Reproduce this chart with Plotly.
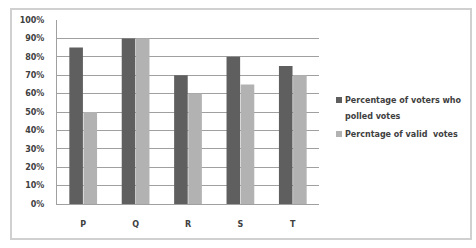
import plotly.graph_objects as go

categories = ["P", "Q", "R", "S", "T"]
voters_polled = [85, 90, 70, 80, 75]
valid_votes = [50, 90, 60, 65, 70]
series_names = ["Percentage of voters who<br>polled votes", "Percntage of valid  votes"]
series_colors = ["#5f5f5f", "#b2b2b2"]
tick_vals = list(range(0, 101, 10))
tick_text = [f"{v}%" for v in tick_vals]

W, H = 476, 248
L, R, T, B = 57, 157, 20, 44
pw, ph = W - L - R, H - T - B

def px_to_paper_x(px):
    return (px - L) / pw

def px_to_paper_y(py):
    return (H - B - py) / ph

fnt = dict(family="DejaVu Sans", size=8, color="#404040", weight="bold")

fig = go.Figure()
for name, vals, col in zip(series_names, [voters_polled, valid_votes], series_colors):
    fig.add_trace(go.Bar(x=categories, y=vals, name=name.replace("<br>", " "),
                         marker=dict(color=col, line=dict(width=0))))

shapes = [dict(type="rect", xref="paper", yref="paper",
               x0=px_to_paper_x(11), x1=px_to_paper_x(471),
               y0=px_to_paper_y(239), y1=px_to_paper_y(9),
               line=dict(color="#d0d0d0", width=2), layer="below")]
annotations = []
legend_rows = [100, 134]
for name, col, yy in zip(series_names, series_colors, legend_rows):
    shapes.append(dict(type="rect", xref="paper", yref="paper",
                       x0=px_to_paper_x(336), x1=px_to_paper_x(342),
                       y0=px_to_paper_y(yy + 3), y1=px_to_paper_y(yy - 3),
                       fillcolor=col, line=dict(width=0)))
    for i, line in enumerate(name.split("<br>")):
        annotations.append(dict(xref="paper", yref="paper", x=px_to_paper_x(343),
                                y=px_to_paper_y(yy + 16 * i), xanchor="left", yanchor="middle",
                                text=line, showarrow=False, align="left",
                                font=dict(family="DejaVu Sans", size=8, color="#404040",
                                          weight="bold")))

fig.update_layout(
    width=W, height=H,
    margin=dict(l=L, r=R, t=T, b=B, pad=0, autoexpand=False),
    paper_bgcolor="white", plot_bgcolor="white",
    barmode="group", bargap=0.46, bargroupgap=0.04,
    font=fnt,
    showlegend=False,
    xaxis=dict(showgrid=False, showline=True, linecolor="#a0a0a0", linewidth=1,
               ticks="", tickfont=fnt, ticklabelstandoff=12),
    yaxis=dict(range=[0, 100], tickvals=tick_vals, ticktext=tick_text,
               showgrid=True, gridcolor="#a0a0a0", gridwidth=1,
               showline=True, linecolor="#a0a0a0", linewidth=1,
               ticks="", tickfont=fnt, ticklabelstandoff=10, zeroline=False),
    shapes=shapes,
    annotations=annotations,
)

fig.write_html("out.html")
